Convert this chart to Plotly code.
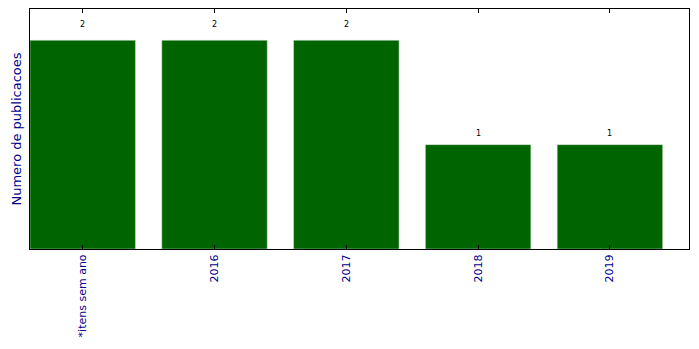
import plotly.graph_objects as go

categories = ["*itens sem ano", "2016", "2017", "2018", "2019"]
counts = [2, 2, 2, 1, 1]

fig = go.Figure()
fig.add_trace(go.Bar(
    x=list(range(len(categories))), y=counts, width=0.8,
    marker=dict(color="#006400", line=dict(color="#cfe3cf", width=0.5)),
    showlegend=False, hoverinfo="skip"))

for i, v in enumerate(counts):
    fig.add_annotation(x=i, y=1.05 * v, text=str(v), showarrow=False, yanchor="bottom",
                       yshift=-1, font=dict(family="DejaVu Sans", size=8, color="black"))

fig.update_layout(
    width=699, height=349,
    margin=dict(l=30, r=10, t=9, b=100),
    plot_bgcolor="white", paper_bgcolor="white",
    bargap=0.2,
    font=dict(family="DejaVu Sans"),
    xaxis=dict(range=[-0.4, 4.6], tickmode="array",
               tickvals=list(range(len(categories))), ticktext=categories,
               tickangle=-90, ticks="inside", ticklen=4, tickcolor="black",
               showline=True, linecolor="black", linewidth=1, mirror="ticks",
               showgrid=False, zeroline=False,
               tickfont=dict(family="DejaVu Sans", size=11, color="#00008B")),
    yaxis=dict(range=[0, 2.3], showticklabels=False, ticks="",
               showline=True, linecolor="black", linewidth=1, mirror=True,
               showgrid=False, zeroline=False,
               title=dict(text="Numero de publicacoes", standoff=4,
                          font=dict(family="DejaVu Sans", size=13, color="#00008B"))),
)

fig.write_html("out.html")
